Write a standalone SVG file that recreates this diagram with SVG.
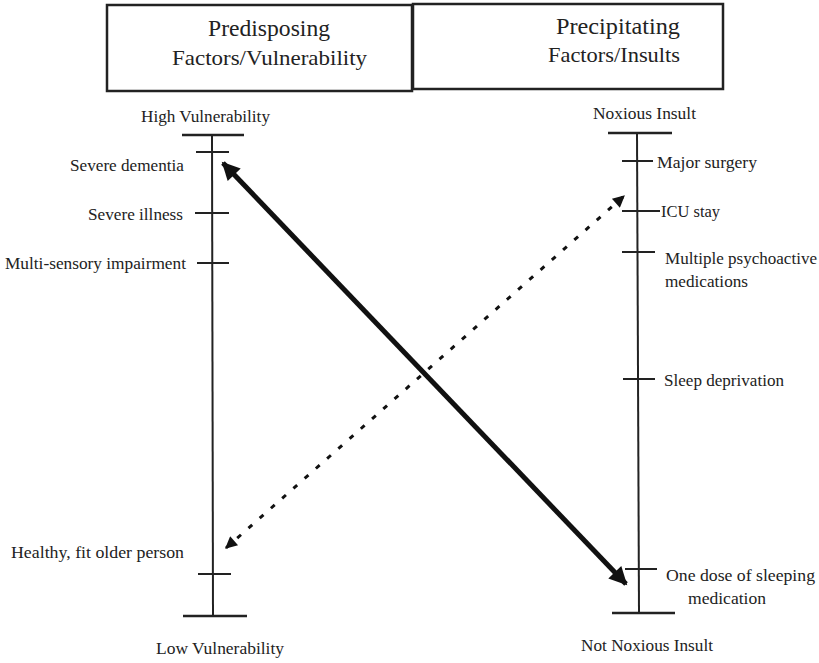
<svg xmlns="http://www.w3.org/2000/svg" width="819" height="663" viewBox="0 0 819 663">
<style>
text{font-family:"Liberation Serif","Times New Roman",serif;fill:#222}
.t1{font-size:23px}
.t2{font-size:21px}
.lab{font-size:16.5px}
.box{fill:#fff;stroke:#222;stroke-width:2.5}
.ax{stroke:#222;stroke-width:2;fill:none}
.cap{stroke:#222;stroke-width:2.5}
</style>
<defs>
<marker id="ah" viewBox="0 0 10 10" refX="9" refY="5" markerWidth="4.5" markerHeight="3.6" orient="auto-start-reverse" markerUnits="strokeWidth"><path d="M0,0 L10,5 L0,10 z" fill="#111"/></marker>
<marker id="ahd" viewBox="0 0 10 10" refX="9" refY="5" markerWidth="5" markerHeight="4" orient="auto-start-reverse" markerUnits="strokeWidth"><path d="M0,0 L10,5 L0,10 z" fill="#111"/></marker>
</defs>
<rect width="819" height="663" fill="#fff"/>
<g id="box-predisposing">
<rect class="box" x="107" y="5" width="305" height="86"/>
<text class="t1" x="208" y="36" textLength="122" lengthAdjust="spacingAndGlyphs">Predisposing</text>
<text class="t2" x="172" y="65" textLength="195" lengthAdjust="spacingAndGlyphs">Factors/Vulnerability</text>
</g>
<g id="box-precipitating">
<rect class="box" x="413" y="4" width="310" height="85"/>
<text class="t1" x="556" y="34" textLength="124" lengthAdjust="spacingAndGlyphs">Precipitating</text>
<text class="t2" x="548" y="62" textLength="132" lengthAdjust="spacingAndGlyphs">Factors/Insults</text>
</g>
<g id="axis-vulnerability">
<line class="ax" x1="212" y1="135" x2="213" y2="616"/>
<line class="cap" x1="182" y1="135" x2="244" y2="135"/>
<line class="cap" x1="183" y1="616" x2="247" y2="616"/>
<line class="ax" x1="196" y1="152" x2="229" y2="152"/>
<line class="ax" x1="195" y1="213" x2="229" y2="213"/>
<line class="ax" x1="197" y1="263" x2="229" y2="263"/>
<line class="ax" x1="198" y1="574" x2="231" y2="574"/>
<text class="lab" x="141" y="122" textLength="129" lengthAdjust="spacingAndGlyphs">High Vulnerability</text>
<text class="lab" x="70" y="171" textLength="114" lengthAdjust="spacingAndGlyphs">Severe dementia</text>
<text class="lab" x="88" y="220" textLength="95" lengthAdjust="spacingAndGlyphs">Severe illness</text>
<text class="lab" x="5" y="269" textLength="181" lengthAdjust="spacingAndGlyphs">Multi-sensory impairment</text>
<text class="lab" x="11" y="558" textLength="173" lengthAdjust="spacingAndGlyphs">Healthy, fit older person</text>
<text class="lab" x="156" y="654" textLength="128" lengthAdjust="spacingAndGlyphs">Low Vulnerability</text>
</g>
<g id="axis-insult">
<line class="ax" x1="637" y1="133" x2="639" y2="613"/>
<line class="cap" x1="608" y1="133" x2="672" y2="133"/>
<line class="cap" x1="612" y1="613" x2="675" y2="613"/>
<line class="ax" x1="622" y1="161" x2="653" y2="161"/>
<line class="ax" x1="622" y1="211" x2="660" y2="211"/>
<line class="ax" x1="622" y1="252" x2="655" y2="252"/>
<line class="ax" x1="623" y1="379" x2="655" y2="379"/>
<line class="ax" x1="625" y1="569" x2="657" y2="569"/>
<text class="lab" x="593" y="119" textLength="103" lengthAdjust="spacingAndGlyphs">Noxious Insult</text>
<text class="lab" x="657" y="168" textLength="100" lengthAdjust="spacingAndGlyphs">Major surgery</text>
<text class="lab" x="661" y="217" textLength="59" lengthAdjust="spacingAndGlyphs">ICU stay</text>
<text class="lab" x="665" y="264" textLength="152" lengthAdjust="spacingAndGlyphs">Multiple psychoactive</text>
<text class="lab" x="665" y="287" textLength="83" lengthAdjust="spacingAndGlyphs">medications</text>
<text class="lab" x="664" y="386" textLength="120" lengthAdjust="spacingAndGlyphs">Sleep deprivation</text>
<text class="lab" x="666" y="581" textLength="149" lengthAdjust="spacingAndGlyphs">One dose of  sleeping</text>
<text class="lab" x="688" y="604" textLength="78" lengthAdjust="spacingAndGlyphs">medication</text>
<text class="lab" x="581" y="651" textLength="132" lengthAdjust="spacingAndGlyphs">Not Noxious Insult</text>
</g>
<g id="connectors">
<line x1="223" y1="163" x2="626" y2="584" stroke="#111" stroke-width="5" marker-start="url(#ah)" marker-end="url(#ah)"/>
<line x1="226" y1="548" x2="624" y2="196" stroke="#111" stroke-width="3" stroke-dasharray="5 10" marker-start="url(#ahd)" marker-end="url(#ahd)"/>
</g>
</svg>
